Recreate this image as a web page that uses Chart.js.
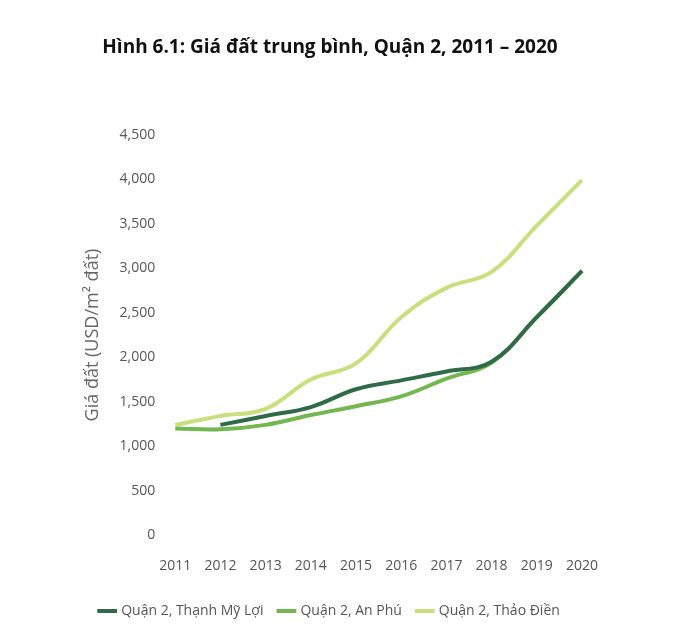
<!DOCTYPE html>
<html><head><meta charset="utf-8">
<script src="https://cdn.jsdelivr.net/npm/chart.js@4"></script>
<style>html,body{margin:0;background:#fff}#w{width:680px;height:638px}</style>
</head><body><div id="w"><canvas id="c"></canvas></div>
<script>
const years = ['2011','2012','2013','2014','2015','2016','2017','2018','2019','2020'];
const thanhMyLoi = [null,1240,1340,1440,1640,1740,1840,1950,2450,2970];
const anPhu = [1200,1190,1240,1350,1450,1560,1760,1940,2450,2970];
const thaoDien = [1240,1340,1420,1750,1930,2450,2780,2960,3480,3990];
const F = "'Open Sans', 'DejaVu Sans', sans-serif";
const ds = (label, data, color) => ({label, data, borderColor: color, backgroundColor: color, borderWidth: 4, pointRadius: 0, tension: 0.4, fill: false});
new Chart(document.getElementById('c'), {
  type: 'line',
  data: {labels: years, datasets: [
    ds('Quận 2, Thạnh Mỹ Lợi', thanhMyLoi, '#2f6b47'),
    ds('Quận 2, An Phú', anPhu, '#72b74f'),
    ds('Quận 2, Thảo Điền', thaoDien, '#c8df7d')
  ]},
  options: {
    responsive: true, maintainAspectRatio: false, animation: false,
    layout: {padding: {left: 78, right: 98, top: 0, bottom: 10}},
    plugins: {
      title: {display: true, text: 'Hình 6.1: Giá đất trung bình, Quận 2, 2011 – 2020', color: '#111', font: {family: F, size: 19, weight: 'bold'}, padding: {top: 36, bottom: 76}},
      legend: {position: 'bottom', labels: {usePointStyle: true, pointStyle: 'line', boxWidth: 30, color: '#555', font: {family: F, size: 14}, padding: 16}},
      tooltip: {enabled: false}
    },
    scales: {
      x: {offset: false, grid: {display: false}, border: {display: false}, ticks: {color: '#555', font: {family: F, size: 14}, padding: 14}},
      y: {min: 0, max: 4500, grid: {display: false}, border: {display: false},
        ticks: {stepSize: 500, color: '#555', padding: 12, font: {family: F, size: 14}, callback: v => v.toLocaleString('en-US')},
        title: {display: true, text: 'Giá đất (USD/m² đất)', color: '#666', font: {family: F, size: 18}}}
    }
  }
});
</script></body></html>
